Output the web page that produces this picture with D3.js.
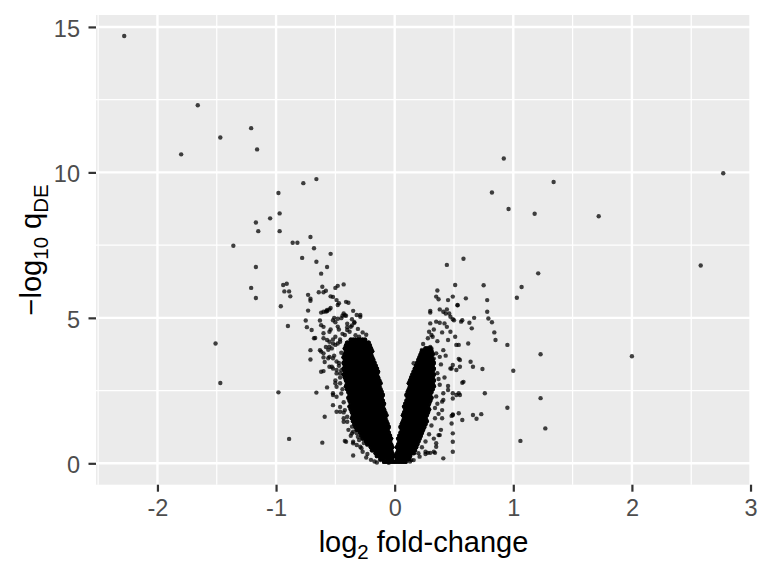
<!DOCTYPE html>
<html><head><meta charset="utf-8">
<script src="https://cdn.jsdelivr.net/npm/d3@7"></script>
<style>body{margin:0;background:#fff}svg{display:block}</style>
</head><body><svg id="c" width="768" height="576"></svg>
<script>
// ---- data: log2 fold-change (x) and -log10 q (y) ----
const farX=[-2.28,-1.66,-1.80,-1.47,-1.21,-1.16,-0.98,-0.77,-0.66,-0.97,-1.05,-1.17,-1.15,-0.97,-1.36,-0.86,-0.82,-0.71,-0.68,-0.54,-0.78,-0.66,-0.57,-0.62,-1.17,-1.21,-1.17,-0.96,-0.94,-0.91,-0.93,-0.89,-0.88,-1.51,-1.47,-0.98,-0.89,-0.90,-0.73,-0.71,-0.71,-0.64,-0.61,-0.58,-0.60,-0.50,-0.48,-0.43,-0.73,-0.75,-0.74,-0.70,-0.68,-0.67,-0.71,-0.71,-0.66,-0.61,-0.59,
0.92,1.34,0.82,0.96,1.18,1.72,2.77,2.58,0.58,0.44,1.21,1.07,1.03,0.51,0.75,0.36,2.00,1.23,1.23,1.27,1.06,0.95,1.00,0.95,0.85,0.84,0.82,0.79,0.78,0.78,0.60,0.76,0.73,0.69,0.66,0.57,0.74,0.66,0.62,0.65,0.63,0.67];
const farY=[14.69,12.31,10.62,11.20,11.52,10.79,9.29,9.63,9.77,8.59,8.42,8.28,7.98,7.98,7.48,7.58,7.58,7.78,7.39,7.20,7.06,6.93,6.75,6.52,6.75,6.03,5.68,5.40,6.13,6.17,5.91,5.91,5.74,4.12,2.76,2.44,0.84,4.72,5.79,5.66,5.59,5.88,6.07,5.93,5.88,6.03,6.10,6.15,5.25,4.91,4.68,4.58,4.30,4.31,3.89,3.57,2.43,0.71,1.60,
10.48,9.67,9.31,8.74,8.58,8.49,9.97,6.80,7.03,6.82,6.53,6.06,5.69,6.13,6.12,5.94,3.68,3.75,2.24,1.20,0.77,1.91,3.18,4.07,4.24,4.50,4.85,4.98,5.21,5.61,5.67,2.41,1.69,1.53,1.66,1.49,3.24,3.32,4.12,4.64,4.83,5.00];

const nearLeftX=[-0.54,-0.52,-0.49,-0.47,-0.48,-0.41,-0.39,-0.35,-0.32,-0.29,-0.29,-0.57,-0.55,-0.62,-0.60,-0.43,-0.41,-0.44,-0.63,-0.62,-0.60,-0.40,-0.36,-0.34,-0.58,-0.57,-0.54,-0.52,-0.48,-0.45,-0.42,-0.34,-0.37,-0.40,-0.38,-0.60,-0.57,-0.55,-0.52,-0.50,-0.48,-0.46,-0.63,-0.62,-0.60,-0.59,-0.55,-0.52,-0.60,-0.55,-0.52,-0.49,-0.46,-0.57,-0.52,-0.49,-0.46,-0.52,-0.49,-0.46,-0.43,-0.43,-0.42,-0.41,-0.35,-0.39,-0.32,-0.31,-0.35,-0.23,-0.17,-0.28,-0.36,-0.35,-0.35,-0.32,-0.29,-0.27,-0.12,
-0.60,-0.55,-0.50,-0.46,-0.42,-0.55,-0.52,-0.60,-0.56,-0.53,-0.62,-0.49,-0.50,-0.52,-0.49,-0.46,-0.42,-0.43,-0.40,-0.36,
-0.44,-0.40,-0.31,-0.27,-0.24,-0.36,-0.33,-0.30,-0.47,-0.50,-0.45,-0.47,-0.46,-0.45,-0.43,-0.40,-0.37,-0.30,-0.26,-0.24,-0.20,-0.15,-0.05,
-0.53,-0.51,-0.49,-0.56,-0.45,-0.44,-0.50,-0.47,-0.58,-0.54,-0.48,-0.51];
const nearLeftY=[5.74,5.72,5.61,5.50,5.44,5.55,5.52,5.24,5.10,5.04,5.10,5.23,5.29,5.18,5.21,5.15,5.07,5.07,4.91,4.75,4.69,4.68,4.74,4.85,5.22,5.27,5.34,4.92,4.97,4.99,5.09,4.83,4.69,4.58,4.52,4.30,4.24,4.18,4.26,4.07,4.12,4.18,3.89,3.84,3.64,3.48,3.66,3.61,3.17,3.32,3.26,3.21,3.09,2.61,2.35,2.63,2.75,2.00,1.77,1.77,1.75,1.43,0.77,0.74,0.69,1.15,1.03,0.91,0.27,0.32,0.06,0.52,1.03,1.09,0.74,0.63,0.57,0.40,0.11,
4.47,4.52,4.35,4.26,4.41,4.01,4.12,3.78,3.61,3.32,3.15,3.09,2.75,2.41,2.29,1.94,1.83,1.55,1.43,1.26,
4.45,4.80,4.62,4.50,4.42,4.95,4.40,4.35,4.60,4.85,3.80,3.45,2.95,2.40,2.10,1.60,0.95,0.80,0.70,0.20,0.12,0.03,0.02,
3.95,3.70,3.50,3.90,3.20,2.55,2.85,3.35,4.00,4.60,4.70,5.00];

const nearRightX=[0.35,0.37,0.45,0.49,0.53,0.30,0.30,0.38,0.41,0.43,0.47,0.49,0.35,0.38,0.42,0.44,0.57,0.56,0.30,0.29,0.31,0.47,0.51,0.54,0.45,0.24,0.27,0.31,0.35,0.38,0.41,0.16,0.19,0.47,0.52,0.55,0.64,0.55,0.54,0.52,0.48,0.49,0.57,0.58,0.45,0.41,0.40,0.49,0.52,0.54,0.49,0.54,0.48,0.48,0.49,0.49,0.41,0.38,0.35,0.33,0.30,0.26,0.21,0.16,0.13,0.10,0.14,0.26,0.28,0.34,0.35,0.37,0.39,0.40,0.40,0.41,0.45,0.49,0.49,0.49,0.55,0.53,0.44,0.46,0.50,
0.36,0.37,0.35,0.34,0.31,0.29,0.26,0.23,0.20,0.33,0.30,0.26,0.36,0.40,0.33,0.23,
0.38,0.39,0.37,0.36,0.34,0.33,0.42,0.43,0.28,0.32];
const nearRightY=[5.73,5.64,5.61,5.73,5.44,5.24,5.18,5.29,5.21,5.15,5.04,4.95,4.87,4.83,4.81,4.69,4.92,4.87,4.81,4.52,4.41,4.52,4.35,4.07,4.24,4.10,3.89,3.95,3.78,3.66,3.89,3.44,3.32,3.26,3.21,3.32,3.49,3.55,3.59,4.07,3.26,3.38,2.77,2.80,2.66,2.41,2.12,2.23,2.35,2.41,1.66,1.72,1.63,1.37,0.74,0.40,0.17,0.97,0.69,0.40,0.36,0.40,0.23,0.11,0.06,0.06,0.11,0.32,0.36,0.36,0.57,0.97,1.15,1.55,1.83,2.18,2.52,1.68,1.03,2.41,2.35,5.43,5.29,5.15,4.92,
3.10,2.90,2.30,1.90,1.30,1.00,0.75,0.55,0.35,3.60,4.00,3.70,4.20,4.50,4.60,3.90,
2.70,3.40,1.70,2.05,1.55,0.85,2.95,3.70,4.30,4.35];

// saturated core: rows of [ -log10 q, fold-changes read across the dense band ];
// each listed position stands for coreDepth overlapping genes (the band is fully saturated)
const coreDepth=3;
const coreLeft=[
[0.05,[-.01,-.03,-.05,-.07,-.09]],
[0.15,[-.02,-.04,-.06,-.08,-.10,-.12]],
[0.25,[-.01,-.03,-.05,-.07,-.09,-.11,-.13,-.15]],
[0.35,[-.02,-.04,-.06,-.08,-.10,-.12,-.14,-.16]],
[0.45,[-.03,-.05,-.07,-.09,-.11,-.13,-.15,-.17,-.19]],
[0.55,[-.02,-.04,-.06,-.08,-.10,-.12,-.14,-.16,-.18,-.20]],
[0.65,[-.03,-.05,-.07,-.09,-.11,-.13,-.15,-.17,-.19,-.21,-.23]],
[0.75,[-.04,-.06,-.08,-.10,-.12,-.14,-.16,-.18,-.20,-.22,-.24]],
[0.85,[-.03,-.05,-.07,-.09,-.11,-.13,-.15,-.17,-.19,-.21,-.23,-.25,-.27]],
[0.95,[-.04,-.06,-.08,-.10,-.12,-.14,-.16,-.18,-.20,-.22,-.24,-.26,-.28]],
[1.05,[-.05,-.07,-.09,-.11,-.13,-.15,-.17,-.19,-.21,-.23,-.25,-.27,-.29]],
[1.15,[-.06,-.08,-.10,-.12,-.14,-.16,-.18,-.20,-.22,-.24,-.26,-.28,-.30,-.32]],
[1.25,[-.05,-.07,-.09,-.11,-.13,-.15,-.17,-.19,-.21,-.23,-.25,-.27,-.29,-.31,-.33]],
[1.35,[-.06,-.08,-.10,-.12,-.14,-.16,-.18,-.20,-.22,-.24,-.26,-.28,-.30,-.32,-.34]],
[1.45,[-.07,-.09,-.11,-.13,-.15,-.17,-.19,-.21,-.23,-.25,-.27,-.29,-.31,-.33,-.35]],
[1.55,[-.08,-.10,-.12,-.14,-.16,-.18,-.20,-.22,-.24,-.26,-.28,-.30,-.32,-.34,-.36]],
[1.65,[-.07,-.09,-.11,-.13,-.15,-.17,-.19,-.21,-.23,-.25,-.27,-.29,-.31,-.33,-.35]],
[1.75,[-.08,-.10,-.12,-.14,-.16,-.18,-.20,-.22,-.24,-.26,-.28,-.30,-.32,-.34,-.36]],
[1.85,[-.09,-.11,-.13,-.15,-.17,-.19,-.21,-.23,-.25,-.27,-.29,-.31,-.33,-.35,-.37]],
[1.95,[-.10,-.12,-.14,-.16,-.18,-.20,-.22,-.24,-.26,-.28,-.30,-.32,-.34,-.36,-.38]],
[2.05,[-.09,-.11,-.13,-.15,-.17,-.19,-.21,-.23,-.25,-.27,-.29,-.31,-.33,-.35,-.37]],
[2.15,[-.10,-.12,-.14,-.16,-.18,-.20,-.22,-.24,-.26,-.28,-.30,-.32,-.34,-.36,-.38]],
[2.25,[-.11,-.13,-.15,-.17,-.19,-.21,-.23,-.25,-.27,-.29,-.31,-.33,-.35,-.37,-.39]],
[2.35,[-.10,-.12,-.14,-.16,-.18,-.20,-.22,-.24,-.26,-.28,-.30,-.32,-.34,-.36,-.38]],
[2.45,[-.11,-.13,-.15,-.17,-.19,-.21,-.23,-.25,-.27,-.29,-.31,-.33,-.35,-.37,-.39]],
[2.55,[-.12,-.14,-.16,-.18,-.20,-.22,-.24,-.26,-.28,-.30,-.32,-.34,-.36,-.38,-.40]],
[2.65,[-.13,-.15,-.17,-.19,-.21,-.23,-.25,-.27,-.29,-.31,-.33,-.35,-.37,-.39,-.41]],
[2.75,[-.12,-.14,-.16,-.18,-.20,-.22,-.24,-.26,-.28,-.30,-.32,-.34,-.36,-.38,-.40]],
[2.85,[-.13,-.15,-.17,-.19,-.21,-.23,-.25,-.27,-.29,-.31,-.33,-.35,-.37,-.39,-.41]],
[2.95,[-.14,-.16,-.18,-.20,-.22,-.24,-.26,-.28,-.30,-.32,-.34,-.36,-.38,-.40,-.42]],
[3.05,[-.15,-.17,-.19,-.21,-.23,-.25,-.27,-.29,-.31,-.33,-.35,-.37,-.39,-.41,-.43]],
[3.15,[-.14,-.16,-.18,-.20,-.22,-.24,-.26,-.28,-.30,-.32,-.34,-.36,-.38,-.40,-.42]],
[3.25,[-.15,-.17,-.19,-.21,-.23,-.25,-.27,-.29,-.31,-.33,-.35,-.37,-.39,-.41,-.43]],
[3.35,[-.16,-.18,-.20,-.22,-.24,-.26,-.28,-.30,-.32,-.34,-.36,-.38,-.40,-.42]],
[3.45,[-.17,-.19,-.21,-.23,-.25,-.27,-.29,-.31,-.33,-.35,-.37,-.39,-.41,-.43]],
[3.55,[-.18,-.20,-.22,-.24,-.26,-.28,-.30,-.32,-.34,-.36,-.38,-.40,-.42]],
[3.65,[-.19,-.21,-.23,-.25,-.27,-.29,-.31,-.33,-.35,-.37,-.39,-.41,-.43]],
[3.75,[-.20,-.22,-.24,-.26,-.28,-.30,-.32,-.34,-.36,-.38,-.40,-.42]],
[3.85,[-.19,-.21,-.23,-.25,-.27,-.29,-.31,-.33,-.35,-.37,-.39,-.41]],
[3.95,[-.20,-.22,-.24,-.26,-.28,-.30,-.32,-.34,-.36,-.38,-.40,-.42]],
[4.05,[-.21,-.23,-.25,-.27,-.29,-.31,-.33,-.35,-.37,-.39,-.41]],
[4.15,[-.22,-.24,-.26,-.28,-.30,-.32,-.34,-.36,-.38,-.40]],
[4.25,[-.25,-.27,-.29,-.31,-.33,-.35,-.37]]];
const coreRight=[
[0.05,[.01,.03,.05,.07,.09]],
[0.15,[.02,.04,.06,.08,.10,.12]],
[0.25,[.01,.03,.05,.07,.09,.11,.13]],
[0.35,[.02,.04,.06,.08,.10,.12,.14,.16]],
[0.45,[.03,.05,.07,.09,.11,.13,.15,.17]],
[0.55,[.02,.04,.06,.08,.10,.12,.14,.16,.18]],
[0.65,[.03,.05,.07,.09,.11,.13,.15,.17,.19]],
[0.75,[.04,.06,.08,.10,.12,.14,.16,.18,.20]],
[0.85,[.03,.05,.07,.09,.11,.13,.15,.17,.19,.21]],
[0.95,[.04,.06,.08,.10,.12,.14,.16,.18,.20,.22]],
[1.05,[.05,.07,.09,.11,.13,.15,.17,.19,.21,.23]],
[1.15,[.06,.08,.10,.12,.14,.16,.18,.20,.22,.24]],
[1.25,[.05,.07,.09,.11,.13,.15,.17,.19,.21,.23,.25]],
[1.35,[.06,.08,.10,.12,.14,.16,.18,.20,.22,.24,.26]],
[1.45,[.07,.09,.11,.13,.15,.17,.19,.21,.23,.25,.27]],
[1.55,[.08,.10,.12,.14,.16,.18,.20,.22,.24,.26]],
[1.65,[.07,.09,.11,.13,.15,.17,.19,.21,.23,.25,.27]],
[1.75,[.08,.10,.12,.14,.16,.18,.20,.22,.24,.26,.28]],
[1.85,[.09,.11,.13,.15,.17,.19,.21,.23,.25,.27,.29]],
[1.95,[.08,.10,.12,.14,.16,.18,.20,.22,.24,.26,.28]],
[2.05,[.09,.11,.13,.15,.17,.19,.21,.23,.25,.27,.29]],
[2.15,[.10,.12,.14,.16,.18,.20,.22,.24,.26,.28,.30]],
[2.25,[.11,.13,.15,.17,.19,.21,.23,.25,.27,.29,.31]],
[2.35,[.10,.12,.14,.16,.18,.20,.22,.24,.26,.28,.30]],
[2.45,[.11,.13,.15,.17,.19,.21,.23,.25,.27,.29,.31]],
[2.55,[.12,.14,.16,.18,.20,.22,.24,.26,.28,.30,.32]],
[2.65,[.13,.15,.17,.19,.21,.23,.25,.27,.29,.31,.33]],
[2.75,[.12,.14,.16,.18,.20,.22,.24,.26,.28,.30,.32]],
[2.85,[.13,.15,.17,.19,.21,.23,.25,.27,.29,.31,.33]],
[2.95,[.14,.16,.18,.20,.22,.24,.26,.28,.30,.32]],
[3.05,[.15,.17,.19,.21,.23,.25,.27,.29,.31,.33]],
[3.15,[.16,.18,.20,.22,.24,.26,.28,.30,.32]],
[3.25,[.17,.19,.21,.23,.25,.27,.29,.31,.33]],
[3.35,[.18,.20,.22,.24,.26,.28,.30,.32]],
[3.45,[.19,.21,.23,.25,.27,.29,.31,.33]],
[3.55,[.20,.22,.24,.26,.28,.30,.32]],
[3.65,[.21,.23,.25,.27,.29,.31]],
[3.75,[.22,.24,.26,.28,.30,.32]],
[3.85,[.23,.25,.27,.29,.31]],
[3.95,[.26,.28,.30]]];

const xTicks=[-2,-1,0,1,2,3];
const xTickLabels=["-2","-1","0","1","2","3"];
const xMinor=[-2.5,-1.5,-0.5,0.5,1.5,2.5];
const yTicks=[0,5,10,15];
const yTickLabels=["0","5","10","15"];
const yMinor=[2.5,7.5,12.5];

// ---- build point table ----
const pts=[];
farX.forEach((v,i)=>pts.push([v,farY[i]]));
nearLeftX.forEach((v,i)=>pts.push([v,nearLeftY[i]]));
nearRightX.forEach((v,i)=>pts.push([v,nearRightY[i]]));
coreLeft.concat(coreRight).forEach(r=>r[1].forEach(v=>{for(let k=0;k<coreDepth;k++)pts.push([v,r[0]]);}));

// ---- layout ----
const svg=d3.select("#c");
const L=96,R=751,T=15,B=484.7;
const x=d3.scaleLinear().domain([-2.518,3.004]).range([L,R]);
const y=d3.scaleLinear().domain([-0.735,15.41]).range([B,T]);
const font="'Liberation Sans', Arial, Helvetica, sans-serif";

svg.append("rect").attr("x",L).attr("y",T).attr("width",R-L).attr("height",B-T).attr("fill","#EBEBEB");
const g=svg.append("g");
g.selectAll(".vmin").data(xMinor).join("line").attr("x1",d=>x(d)).attr("x2",d=>x(d)).attr("y1",T).attr("y2",B).attr("stroke","#fff").attr("stroke-width",1.2);
g.selectAll(".hmin").data(yMinor).join("line").attr("y1",d=>y(d)).attr("y2",d=>y(d)).attr("x1",L).attr("x2",R).attr("stroke","#fff").attr("stroke-width",1.2);
g.selectAll(".vmaj").data(xTicks).join("line").attr("x1",d=>x(d)).attr("x2",d=>x(d)).attr("y1",T).attr("y2",B).attr("stroke","#fff").attr("stroke-width",2.4);
g.selectAll(".hmaj").data(yTicks).join("line").attr("y1",d=>y(d)).attr("y2",d=>y(d)).attr("x1",L).attr("x2",R).attr("stroke","#fff").attr("stroke-width",2.4);

svg.append("clipPath").attr("id","clip").append("rect").attr("x",L).attr("y",T).attr("width",R-L).attr("height",B-T);
svg.append("g").attr("clip-path","url(#clip)").selectAll("circle").data(pts).join("circle")
  .attr("cx",d=>x(d[0])).attr("cy",d=>y(d[1])).attr("r",2.2)
  .attr("fill","#000").attr("fill-opacity",0.74);

// axes
const xa=svg.append("g").attr("transform",`translate(0,${B})`)
  .call(d3.axisBottom(x).tickValues(xTicks).tickFormat((d,i)=>xTickLabels[i]).tickSize(7).tickPadding(7.6));
const ya=svg.append("g").attr("transform",`translate(${L},0)`)
  .call(d3.axisLeft(y).tickValues(yTicks).tickFormat((d,i)=>yTickLabels[i]).tickSize(7.5).tickPadding(8.5));
[xa,ya].forEach(a=>{a.select(".domain").remove();
  a.selectAll(".tick line").attr("stroke","#333").attr("stroke-width",2.2);
  a.selectAll(".tick text").attr("fill","#4D4D4D").attr("font-family",font).attr("font-size",23.5);});
ya.selectAll(".tick text").attr("dy","0.4em");

// titles
const xt=svg.append("text").attr("x",(L+R)/2).attr("y",552).attr("text-anchor","middle")
  .attr("font-family",font).attr("font-size",29).attr("fill","#000");
xt.append("tspan").text("log");
xt.append("tspan").attr("dy",7).attr("font-size",20.5).text("2");
xt.append("tspan").attr("dy",-7).text(" fold-change");

const yt=svg.append("text").attr("transform",`translate(41,${(T+B)/2}) rotate(-90)`).attr("text-anchor","middle")
  .attr("font-family",font).attr("font-size",29).attr("fill","#000");
yt.append("tspan").text("\u2212log");
yt.append("tspan").attr("dy",7).attr("font-size",20.5).text("10");
yt.append("tspan").attr("dy",-7).text(" q");
yt.append("tspan").attr("dy",7).attr("font-size",20.5).text("DE");
</script></body></html>
